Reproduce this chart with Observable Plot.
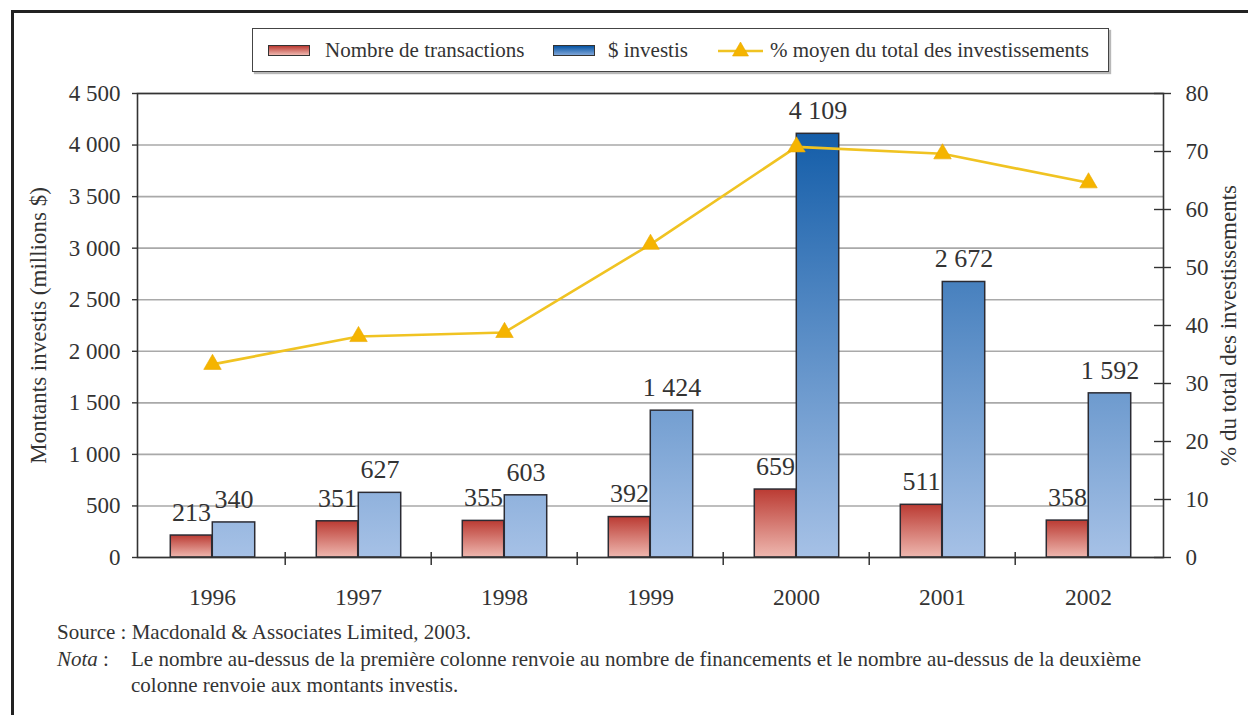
<!DOCTYPE html>
<html>
<head>
<meta charset="utf-8">
<script src="https://cdn.jsdelivr.net/npm/d3@7"></script>
<script src="https://cdn.jsdelivr.net/npm/@observablehq/plot@0.6"></script>
<style>
  html, body { margin: 0; padding: 0; background: #fff; }
  body { font-family: "Liberation Serif", "Times New Roman", serif; color: #333; }
  #page { position: relative; width: 1248px; height: 715px; overflow: hidden; background: #fff; }
  #border { position: absolute; left: 11px; top: 10px; right: -20px; bottom: -20px;
            border-left: 3px solid #222; border-top: 3px solid #222; }
  #legend { position: absolute; left: 252px; top: 28px; width: 855px; height: 42px;
            border: 1.5px solid #444; box-shadow: 2px 2px 1px #b8b8b8; background: #fff; }
  #legend .sw { position: absolute; top: 16px; width: 42px; height: 11px; border: 1.5px solid #333; box-sizing: border-box; }
  #legend .lab { position: absolute; top: 8px; font-size: 21px; line-height: 26px; white-space: nowrap; color: #333; }
  #legend svg { position: absolute; }
  #chart { position: absolute; left: 0; top: 80px; }
  #caption { position: absolute; left: 57px; top: 619px; font-size: 21px; line-height: 26.5px; color: #333; }
  #caption .row { display: flex; white-space: nowrap; }
  #caption .k { width: 74px; flex: none; }
</style>
</head>
<body>
<div id="page">
  <div id="border"></div>
  <div id="legend"></div>
  <div id="chart"></div>
  <div id="caption"></div>
</div>
<script>
// ---- Data ----
const years = ["1996", "1997", "1998", "1999", "2000", "2001", "2002"];
const transactions = [213, 351, 355, 392, 659, 511, 358];
const invested = [340, 627, 603, 1424, 4109, 2672, 1592];
const pctTotal = [33.3, 38.1, 38.8, 54.0, 70.8, 69.6, 64.6];
const leftTicks = [0, 500, 1000, 1500, 2000, 2500, 3000, 3500, 4000, 4500];
const rightTicks = [0, 10, 20, 30, 40, 50, 60, 70, 80];

const seriesNames = ["Nombre de transactions", "$ investis", "% moyen du total des investissements"];
const leftTitle = "Montants investis (millions $)";
const rightTitle = "% du total des investissements";
const sourceText = "Source : Macdonald & Associates Limited, 2003.";
const notaText = "Le nombre au-dessus de la première colonne renvoie au nombre de financements et le nombre au-dessus de la deuxième colonne renvoie aux montants investis.";

// ---- Setup ----
const Y_MAX = 4500, P_MAX = 80, k = Y_MAX / P_MAX;
const data = years.map((year, i) => ({year, transactions: transactions[i], invested: invested[i], pct: pctTotal[i]}));

const W = 1248, H = 560, mL = 137, mR = 85, mT = 13, mB = 83;
const bw = (W - mL - mR) / years.length;
const fmt = d => d3.format(",")(d).replace(/,/g, " ");

const RED_TOP = "#bb3b33", RED_BOT = "#eeb7af";
const BLUE_TOP = "#0654a3", BLUE_BOT = "#a6c1e6";
const LINE_C = "#f0c322", MARK_C = "#f5b400";
const INK = "#333";

const defs = (index, scales) => {
  const y0 = scales.y ? scales.y(0) : H - mB;
  const y1 = scales.y ? scales.y(Y_MAX) : mT;
  const svgNS = "http://www.w3.org/2000/svg";
  const d = document.createElementNS(svgNS, "defs");
  d.innerHTML =
    `<linearGradient id="redGrad" x1="0" y1="0" x2="0" y2="1">
       <stop offset="0" stop-color="${RED_TOP}"/><stop offset="1" stop-color="${RED_BOT}"/>
     </linearGradient>
     <linearGradient id="blueGrad" gradientUnits="userSpaceOnUse" x1="0" y1="${y1}" x2="0" y2="${y0}">
       <stop offset="0" stop-color="${BLUE_TOP}"/><stop offset="1" stop-color="${BLUE_BOT}"/>
     </linearGradient>`;
  return d;
};

const chart = Plot.plot({
  width: W, height: H,
  marginLeft: mL, marginRight: mR, marginTop: mT, marginBottom: mB,
  style: {fontFamily: '"Liberation Serif", "Times New Roman", serif', fontSize: "23px", color: INK, background: "transparent"},
  x: {type: "band", domain: years, padding: 0},
  y: {domain: [0, Y_MAX]},
  marks: [
    defs,
    Plot.gridY(leftTicks, {stroke: "#a9a9a9", strokeOpacity: 1, strokeWidth: 1.6}),
    Plot.barY(data, {x: "year", y: "transactions", fill: "url(#redGrad)", stroke: "#2b2b33", strokeWidth: 1.5,
                     insetLeft: bw / 2 - 42, insetRight: bw / 2}),
    Plot.barY(data, {x: "year", y: "invested", fill: "url(#blueGrad)", stroke: "#2b2b33", strokeWidth: 1.5,
                     insetLeft: bw / 2, insetRight: bw / 2 - 43}),
    Plot.line(data, {x: "year", y: d => d.pct * k, stroke: LINE_C, strokeWidth: 2.6}),
    Plot.dot(data, {x: "year", y: d => d.pct * k, symbol: "triangle", r: 6.5, fill: MARK_C, stroke: "#e9a900", strokeWidth: 0.6}),
    Plot.frame({stroke: INK, strokeWidth: 1.6}),
    Plot.axisY(leftTicks, {anchor: "left", tickSize: 5, tickPadding: 12, tickFormat: fmt, fontSize: 23, label: null, stroke: INK, strokeWidth: 1.4}),
    Plot.axisY(rightTicks.map(v => v * k), {anchor: "right", tickSize: 17, dx: -10, tickFormat: () => "", label: null, stroke: INK, strokeWidth: 1.4}),
    Plot.axisY(rightTicks.map(v => v * k), {anchor: "right", tickSize: 0, tickPadding: 22, tickFormat: d => String(Math.round(d / k)), fontSize: 23, label: null}),
    Plot.axisX({tickSize: 0, tickPadding: 31, fontSize: 23.5, label: null}),
    Plot.ruleX(years.slice(1), {x: d => d, y1: 0, y2: 0, dx: -bw / 2, insetTop: -5, insetBottom: -8, stroke: INK, strokeWidth: 1.5}),
    Plot.text(data, {x: "year", y: "transactions", text: d => fmt(d.transactions), dx: -21, dy: -23, fontSize: 26, fill: INK}),
    Plot.text(data, {x: "year", y: "invested", text: d => fmt(d.invested), dx: 21.5, dy: -23, fontSize: 26, fill: INK}),
    Plot.text([leftTitle], {frameAnchor: "left", textAnchor: "middle", rotate: -90, dx: -99, fontSize: 23, fill: INK}),
    Plot.text([rightTitle], {frameAnchor: "right", textAnchor: "middle", rotate: -90, dx: 65, fontSize: 23, fill: INK})
  ]
});
document.getElementById("chart").appendChild(chart);

// ---- Legend ----
const legend = document.getElementById("legend");
legend.innerHTML = `
  <div class="sw" style="left:15px;background:linear-gradient(${RED_TOP},${RED_BOT});"></div>
  <div class="lab" style="left:72px;">${seriesNames[0]}</div>
  <div class="sw" style="left:300px;background:linear-gradient(${BLUE_TOP},#7ea5d8);"></div>
  <div class="lab" style="left:355px;">${seriesNames[1]}</div>
  <svg style="left:464px;top:8px;" width="48" height="26">
    <line x1="1" y1="14" x2="46" y2="14" stroke="${LINE_C}" stroke-width="2.6"/>
    <path d="M23.5,5 L31.5,19 L15.5,19 Z" fill="${MARK_C}" stroke="#e9a900" stroke-width="0.6"/>
  </svg>
  <div class="lab" style="left:517px;">${seriesNames[2]}</div>`;

// ---- Caption ----
const idx = notaText.indexOf(" colonne renvoie aux");
document.getElementById("caption").innerHTML = `
  <div class="row">${sourceText}</div>
  <div class="row"><span class="k"><i>Nota</i> :</span><span>${notaText.slice(0, idx)}</span></div>
  <div class="row"><span class="k"></span><span>${notaText.slice(idx + 1)}</span></div>`;
</script>
</body>
</html>
